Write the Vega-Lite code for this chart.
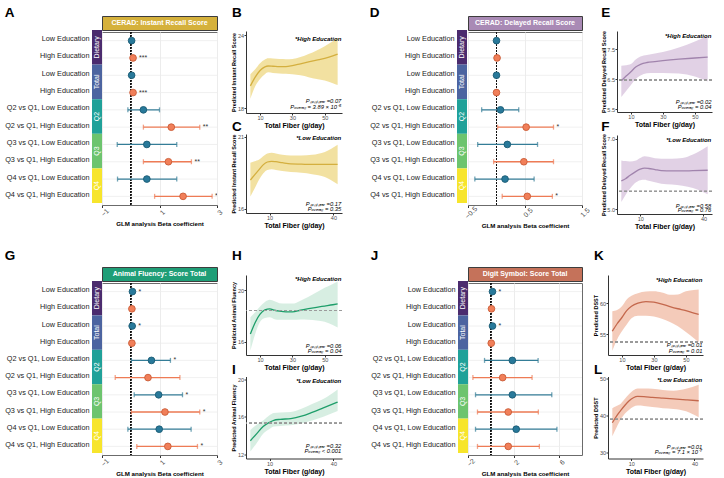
{
"$schema": "https://vega.github.io/schema/vega-lite/v6.json",
"padding": {"left": 4, "top": 5, "right": 0, "bottom": 0},
"background": "white",
"config": {
  "font": "Liberation Sans",
  "view": {"stroke": null},
  "title": {"fontSize": 13.5, "fontWeight": "bold", "anchor": "start", "font": "Liberation Sans", "color": "#000"},
  "axis": {"labelFontSize": 5.5, "labelColor": "#4d4d4d", "tickColor": "#333", "domainColor": "#333", "tickSize": 2, "titleFontWeight": "bold", "titleColor": "#000", "labelPadding": 0.5, "titlePadding": 0.5, "grid": false, "labelOverlap": false, "labelFlush": false},
  "axisX": {"titleFontSize": 7, "labelOverlap": false},
  "axisY": {"titleFontSize": 5.5, "labelOverlap": false}
},
"datasets": {
  "groups": [{"grp": "Dietary"}, {"grp": "Total"}, {"grp": "Q2"}, {"grp": "Q3"}, {"grp": "Q4"}],
  "recall": [
    {"key": "Dietary|Low Education", "edu": "Low", "est": 0.03, "sig": ""},
    {"key": "Dietary|High Education", "edu": "High", "est": 0.08, "sig": "***"},
    {"key": "Total|Low Education", "edu": "Low", "est": 0.03, "sig": ""},
    {"key": "Total|High Education", "edu": "High", "est": 0.08, "sig": "***"},
    {"key": "Q2|Q2 vs Q1, Low Education", "edu": "Low", "est": 0.44, "lo": -0.1, "hi": 1.0, "sig": ""},
    {"key": "Q2|Q2 vs Q1, High Education", "edu": "High", "est": 1.41, "lo": 0.44, "hi": 2.4, "sig": "**"},
    {"key": "Q3|Q3 vs Q1, Low Education", "edu": "Low", "est": 0.56, "lo": -0.47, "hi": 1.6, "sig": ""},
    {"key": "Q3|Q3 vs Q1, High Education", "edu": "High", "est": 1.31, "lo": 0.44, "hi": 2.11, "sig": "**"},
    {"key": "Q4|Q4 vs Q1, Low Education", "edu": "Low", "est": 0.56, "lo": -0.46, "hi": 1.6, "sig": ""},
    {"key": "Q4|Q4 vs Q1, High Education", "edu": "High", "est": 1.82, "lo": 0.83, "hi": 2.83, "sig": "**"}
  ],
  "delayed": [
    {"key": "Dietary|Low Education", "edu": "Low", "est": 0.0, "sig": ""},
    {"key": "Dietary|High Education", "edu": "High", "est": 0.01, "sig": ""},
    {"key": "Total|Low Education", "edu": "Low", "est": 0.0, "sig": ""},
    {"key": "Total|High Education", "edu": "High", "est": 0.0, "sig": ""},
    {"key": "Q2|Q2 vs Q1, Low Education", "edu": "Low", "est": 0.07, "lo": -0.26, "hi": 0.39, "sig": ""},
    {"key": "Q2|Q2 vs Q1, High Education", "edu": "High", "est": 0.52, "lo": 0.02, "hi": 1.0, "sig": "*"},
    {"key": "Q3|Q3 vs Q1, Low Education", "edu": "Low", "est": 0.19, "lo": -0.33, "hi": 0.72, "sig": ""},
    {"key": "Q3|Q3 vs Q1, High Education", "edu": "High", "est": 0.48, "lo": -0.05, "hi": 1.0, "sig": ""},
    {"key": "Q4|Q4 vs Q1, Low Education", "edu": "Low", "est": 0.15, "lo": -0.38, "hi": 0.66, "sig": ""},
    {"key": "Q4|Q4 vs Q1, High Education", "edu": "High", "est": 0.54, "lo": 0.1, "hi": 0.98, "sig": "*"}
  ],
  "animal": [
    {"key": "Dietary|Low Education", "edu": "Low", "est": 0.06, "sig": "*"},
    {"key": "Dietary|High Education", "edu": "High", "est": 0.04, "sig": ""},
    {"key": "Total|Low Education", "edu": "Low", "est": 0.05, "sig": "*"},
    {"key": "Total|High Education", "edu": "High", "est": 0.04, "sig": ""},
    {"key": "Q2|Q2 vs Q1, Low Education", "edu": "Low", "est": 0.72, "lo": 0.02, "hi": 1.38, "sig": "*"},
    {"key": "Q2|Q2 vs Q1, High Education", "edu": "High", "est": 0.6, "lo": -0.54, "hi": 1.71, "sig": ""},
    {"key": "Q3|Q3 vs Q1, Low Education", "edu": "Low", "est": 0.97, "lo": 0.12, "hi": 1.8, "sig": "*"},
    {"key": "Q3|Q3 vs Q1, High Education", "edu": "High", "est": 1.19, "lo": 0.02, "hi": 2.4, "sig": "*"},
    {"key": "Q4|Q4 vs Q1, Low Education", "edu": "Low", "est": 0.99, "lo": -0.1, "hi": 2.1, "sig": ""},
    {"key": "Q4|Q4 vs Q1, High Education", "edu": "High", "est": 1.29, "lo": 0.21, "hi": 2.32, "sig": "*"}
  ],
  "digit": [
    {"key": "Dietary|Low Education", "edu": "Low", "est": 0.15, "sig": "*"},
    {"key": "Dietary|High Education", "edu": "High", "est": 0.06, "sig": ""},
    {"key": "Total|Low Education", "edu": "Low", "est": 0.15, "sig": "*"},
    {"key": "Total|High Education", "edu": "High", "est": 0.04, "sig": ""},
    {"key": "Q2|Q2 vs Q1, Low Education", "edu": "Low", "est": 1.89, "lo": -0.55, "hi": 4.15, "sig": ""},
    {"key": "Q2|Q2 vs Q1, High Education", "edu": "High", "est": 1.04, "lo": -1.57, "hi": 3.62, "sig": ""},
    {"key": "Q3|Q3 vs Q1, Low Education", "edu": "Low", "est": 1.89, "lo": -1.34, "hi": 5.35, "sig": ""},
    {"key": "Q3|Q3 vs Q1, High Education", "edu": "High", "est": 1.53, "lo": -1.17, "hi": 4.17, "sig": ""},
    {"key": "Q4|Q4 vs Q1, Low Education", "edu": "Low", "est": 2.23, "lo": -1.34, "hi": 5.8, "sig": ""},
    {"key": "Q4|Q4 vs Q1, High Education", "edu": "High", "est": 1.53, "lo": -1.17, "hi": 4.26, "sig": ""}
  ],
  "B": [
    {"x": 4, "fit": 19.83, "hi": 20.8, "lo": 18.77}, {"x": 7, "fit": 20.55, "hi": 21.2, "lo": 19.8},
    {"x": 10, "fit": 21.1, "hi": 21.7, "lo": 20.4}, {"x": 13, "fit": 21.4, "hi": 22.0, "lo": 20.8},
    {"x": 15, "fit": 21.47, "hi": 22.1, "lo": 20.95}, {"x": 18, "fit": 21.45, "hi": 22.08, "lo": 20.9},
    {"x": 22, "fit": 21.42, "hi": 22.04, "lo": 20.85}, {"x": 26, "fit": 21.42, "hi": 22.03, "lo": 20.83},
    {"x": 30, "fit": 21.5, "hi": 22.05, "lo": 20.8}, {"x": 35, "fit": 21.65, "hi": 22.2, "lo": 20.7},
    {"x": 40, "fit": 21.8, "hi": 22.45, "lo": 20.55}, {"x": 45, "fit": 21.95, "hi": 22.75, "lo": 20.4},
    {"x": 50, "fit": 22.1, "hi": 23.1, "lo": 20.27}, {"x": 55, "fit": 22.3, "hi": 23.5, "lo": 20.05},
    {"x": 58, "fit": 22.45, "hi": 23.8, "lo": 19.9}
  ],
  "C": [
    {"x": 1, "fit": 18.0, "hi": 19.2, "lo": 16.85}, {"x": 3, "fit": 18.35, "hi": 19.3, "lo": 17.4},
    {"x": 5, "fit": 18.7, "hi": 19.4, "lo": 18.0}, {"x": 7, "fit": 19.05, "hi": 19.65, "lo": 18.45},
    {"x": 9, "fit": 19.25, "hi": 19.85, "lo": 18.7}, {"x": 11, "fit": 19.3, "hi": 19.9, "lo": 18.75},
    {"x": 13, "fit": 19.27, "hi": 19.85, "lo": 18.7}, {"x": 16, "fit": 19.2, "hi": 19.75, "lo": 18.62},
    {"x": 20, "fit": 19.12, "hi": 19.7, "lo": 18.55}, {"x": 25, "fit": 19.1, "hi": 19.7, "lo": 18.5},
    {"x": 30, "fit": 19.08, "hi": 19.75, "lo": 18.4}, {"x": 36, "fit": 19.08, "hi": 19.95, "lo": 18.2},
    {"x": 42, "fit": 19.08, "hi": 20.45, "lo": 17.7}
  ],
  "E": [
    {"x": 4, "fit": 6.44, "hi": 6.94, "lo": 5.9}, {"x": 7, "fit": 6.6, "hi": 6.96, "lo": 6.1},
    {"x": 10, "fit": 6.74, "hi": 7.0, "lo": 6.3}, {"x": 13, "fit": 6.9, "hi": 7.15, "lo": 6.5},
    {"x": 16, "fit": 6.99, "hi": 7.25, "lo": 6.62}, {"x": 20, "fit": 7.05, "hi": 7.3, "lo": 6.69},
    {"x": 25, "fit": 7.08, "hi": 7.35, "lo": 6.7}, {"x": 30, "fit": 7.11, "hi": 7.4, "lo": 6.7},
    {"x": 40, "fit": 7.16, "hi": 7.55, "lo": 6.68}, {"x": 50, "fit": 7.2, "hi": 7.75, "lo": 6.58},
    {"x": 58, "fit": 7.23, "hi": 7.93, "lo": 6.42}
  ],
  "F": [
    {"x": 1, "fit": 5.8, "hi": 6.38, "lo": 5.2}, {"x": 3, "fit": 5.86, "hi": 6.36, "lo": 5.4},
    {"x": 5, "fit": 5.95, "hi": 6.35, "lo": 5.57}, {"x": 8, "fit": 6.07, "hi": 6.38, "lo": 5.76},
    {"x": 10, "fit": 6.13, "hi": 6.45, "lo": 5.82}, {"x": 12, "fit": 6.16, "hi": 6.5, "lo": 5.83},
    {"x": 14, "fit": 6.15, "hi": 6.48, "lo": 5.8}, {"x": 17, "fit": 6.12, "hi": 6.44, "lo": 5.76},
    {"x": 20, "fit": 6.09, "hi": 6.43, "lo": 5.72}, {"x": 25, "fit": 6.08, "hi": 6.43, "lo": 5.7},
    {"x": 30, "fit": 6.08, "hi": 6.45, "lo": 5.66}, {"x": 35, "fit": 6.09, "hi": 6.55, "lo": 5.6},
    {"x": 42, "fit": 6.1, "hi": 6.78, "lo": 5.42}
  ],
  "H": [
    {"x": 4, "fit": 16.6, "hi": 17.9, "lo": 15.3}, {"x": 7, "fit": 17.5, "hi": 18.3, "lo": 16.6},
    {"x": 10, "fit": 18.15, "hi": 18.75, "lo": 17.55}, {"x": 13, "fit": 18.48, "hi": 19.1, "lo": 17.85},
    {"x": 16, "fit": 18.56, "hi": 19.27, "lo": 17.9}, {"x": 19, "fit": 18.45, "hi": 19.15, "lo": 17.75},
    {"x": 22, "fit": 18.38, "hi": 19.0, "lo": 17.7}, {"x": 26, "fit": 18.33, "hi": 18.97, "lo": 17.7},
    {"x": 30, "fit": 18.33, "hi": 18.97, "lo": 17.7}, {"x": 35, "fit": 18.45, "hi": 19.2, "lo": 17.72},
    {"x": 40, "fit": 18.57, "hi": 19.5, "lo": 17.7}, {"x": 45, "fit": 18.68, "hi": 19.85, "lo": 17.65},
    {"x": 50, "fit": 18.78, "hi": 20.2, "lo": 17.55}, {"x": 55, "fit": 18.88, "hi": 20.5, "lo": 17.3},
    {"x": 58, "fit": 18.95, "hi": 20.7, "lo": 17.1}
  ],
  "I": [
    {"x": 1, "fit": 13.45, "hi": 14.6, "lo": 12.3}, {"x": 4, "fit": 14.2, "hi": 15.15, "lo": 13.2},
    {"x": 7, "fit": 14.95, "hi": 15.6, "lo": 14.2}, {"x": 10, "fit": 15.4, "hi": 16.15, "lo": 14.7},
    {"x": 12, "fit": 15.62, "hi": 16.4, "lo": 14.95}, {"x": 15, "fit": 15.72, "hi": 16.45, "lo": 15.02},
    {"x": 20, "fit": 15.8, "hi": 16.5, "lo": 15.08}, {"x": 25, "fit": 16.05, "hi": 16.85, "lo": 15.28},
    {"x": 30, "fit": 16.45, "hi": 17.35, "lo": 15.6}, {"x": 35, "fit": 16.9, "hi": 17.85, "lo": 15.97},
    {"x": 42, "fit": 17.55, "hi": 18.9, "lo": 16.6}
  ],
  "K": [
    {"x": 4, "fit": 55.5, "hi": 58.7, "lo": 52.4}, {"x": 7, "fit": 56.7, "hi": 58.9, "lo": 54.2},
    {"x": 10, "fit": 57.7, "hi": 59.5, "lo": 55.5}, {"x": 13, "fit": 58.8, "hi": 60.6, "lo": 56.6},
    {"x": 16, "fit": 59.5, "hi": 61.2, "lo": 57.6}, {"x": 20, "fit": 60.0, "hi": 61.6, "lo": 58.0},
    {"x": 25, "fit": 60.25, "hi": 61.85, "lo": 58.0}, {"x": 30, "fit": 60.15, "hi": 61.9, "lo": 57.85},
    {"x": 35, "fit": 59.85, "hi": 61.7, "lo": 57.5}, {"x": 40, "fit": 59.45, "hi": 61.35, "lo": 57.0},
    {"x": 45, "fit": 59.1, "hi": 61.4, "lo": 56.3}, {"x": 50, "fit": 58.8, "hi": 61.9, "lo": 55.4},
    {"x": 55, "fit": 58.4, "hi": 62.1, "lo": 54.4}, {"x": 58, "fit": 58.2, "hi": 62.2, "lo": 53.8}
  ],
  "L": [
    {"x": 1, "fit": 38.1, "hi": 42.0, "lo": 34.5}, {"x": 3, "fit": 39.9, "hi": 42.6, "lo": 36.8},
    {"x": 5, "fit": 41.4, "hi": 43.2, "lo": 39.0}, {"x": 7, "fit": 42.8, "hi": 44.5, "lo": 40.6},
    {"x": 9, "fit": 44.0, "hi": 45.8, "lo": 41.6}, {"x": 11, "fit": 44.8, "hi": 46.8, "lo": 42.4},
    {"x": 13, "fit": 45.15, "hi": 47.3, "lo": 42.7}, {"x": 16, "fit": 45.1, "hi": 47.3, "lo": 42.6},
    {"x": 20, "fit": 44.9, "hi": 47.2, "lo": 42.3}, {"x": 25, "fit": 44.7, "hi": 46.9, "lo": 42.0},
    {"x": 30, "fit": 44.5, "hi": 46.7, "lo": 41.8}, {"x": 36, "fit": 44.25, "hi": 47.2, "lo": 41.2},
    {"x": 42, "fit": 44.0, "hi": 48.3, "lo": 39.6}
  ]
},
"spacing": 18,
"vconcat": [
 {"spacing": 27, "hconcat": [
  {"spacing": 7, "hconcat": [
   {"title": {"text": "A", "offset": -3.5}, "spacing": -5, "hconcat": [
    {"spacing": 0, "vconcat": [
     {"width": 10, "height": 14, "data": {"values": [{"a": 1}]}, "mark": {"type": "point", "opacity": 0}, "encoding": {}},
     {"width": 10, "height": 173, "resolve": {"scale": {"y": "independent"}}, "layer": [
      {"data": {"name": "recall"}, "mark": {"type": "point", "opacity": 0}, "encoding": {"y": {"field": "key", "type": "nominal", "sort": null, "scale": {"type": "point", "padding": 0.5, "domain": ["Dietary|Low Education", "Dietary|High Education", "Total|Low Education", "Total|High Education", "Q2|Q2 vs Q1, Low Education", "Q2|Q2 vs Q1, High Education", "Q3|Q3 vs Q1, Low Education", "Q3|Q3 vs Q1, High Education", "Q4|Q4 vs Q1, Low Education", "Q4|Q4 vs Q1, High Education"]}, "axis": {"title": null, "ticks": false, "domain": false, "labelFontSize": 7.3, "labelColor": "#222", "labelPadding": 3, "labelLimit": 200, "labelExpr": "split(datum.value, '|')[1]"}}}},
      {"data": {"name": "groups"}, "mark": {"type": "rect"}, "encoding": {"y": {"field": "grp", "type": "nominal", "sort": null, "scale": {"paddingInner": 0, "paddingOuter": 0}, "axis": null}, "color": {"field": "grp", "type": "nominal", "scale": {"domain": ["Dietary", "Total", "Q2", "Q3", "Q4", "Low", "High"], "range": ["#4B2B6E", "#4C64A0", "#20A199", "#6DC46E", "#F7E52C", "#347D97", "#EE7B55"]}, "legend": null}}},
      {"data": {"name": "groups"}, "mark": {"type": "text", "angle": -90, "color": "white", "fontSize": 7}, "encoding": {"y": {"field": "grp", "type": "nominal", "sort": null, "scale": {"paddingInner": 0, "paddingOuter": 0}, "axis": null}, "text": {"field": "grp"}}}
     ]}
    ]},
    {"spacing": 0, "vconcat": [
     {"width": 115, "height": 14, "view": {"fill": "#D5B13C", "stroke": "#3d3d3d", "strokeWidth": 1}, "data": {"values": [{"t": "CERAD: Instant Recall Score"}]}, "mark": {"type": "text", "color": "white", "fontSize": 7, "fontWeight": "bold", "baseline": "middle"}, "encoding": {"text": {"field": "t"}}},
     {"width": 115, "height": 173, "view": {"stroke": "#6b6b6b", "strokeWidth": 1}, "data": {"name": "recall"}, "layer": [
      {"mark": {"type": "rule", "color": "#ececec", "strokeWidth": 0.8}, "encoding": {"y": {"field": "key", "type": "nominal", "sort": null, "scale": {"type": "point", "padding": 0.5, "domain": ["Dietary|Low Education", "Dietary|High Education", "Total|Low Education", "Total|High Education", "Q2|Q2 vs Q1, Low Education", "Q2|Q2 vs Q1, High Education", "Q3|Q3 vs Q1, Low Education", "Q3|Q3 vs Q1, High Education", "Q4|Q4 vs Q1, Low Education", "Q4|Q4 vs Q1, High Education"]}, "axis": null}}},
      {"mark": {"type": "rule", "strokeDash": [1.5, 1.5], "color": "#111", "strokeWidth": 0.9}, "encoding": {"x": {"datum": 0, "type": "quantitative", "scale": {"domain": [-1, 3], "nice": false}, "axis": {"values": [-1, 0, 1, 2, 3], "labelOverlap": false, "title": "GLM analysis Beta coefficient", "titleFontSize": 6.2, "labelAngle": -45, "labelAlign": "center", "labelBaseline": "top", "labelFontSize": 7, "grid": true, "gridColor": "#ececec", "domain": false, "tickSize": 2.5, "labelPadding": 2, "titlePadding": 3}}}},
      {"mark": {"type": "rule", "strokeWidth": 1.3}, "encoding": {"x": {"field": "lo", "type": "quantitative"}, "x2": {"field": "hi"}, "y": {"field": "key", "type": "nominal", "sort": null}, "color": {"field": "edu", "type": "nominal", "legend": null}}},
      {"mark": {"type": "tick", "thickness": 1.3, "size": 5, "orient": "vertical"}, "encoding": {"x": {"field": "lo", "type": "quantitative"}, "y": {"field": "key", "type": "nominal", "sort": null}, "color": {"field": "edu", "type": "nominal", "legend": null}}},
      {"mark": {"type": "tick", "thickness": 1.3, "size": 5, "orient": "vertical"}, "encoding": {"x": {"field": "hi", "type": "quantitative"}, "y": {"field": "key", "type": "nominal", "sort": null}, "color": {"field": "edu", "type": "nominal", "legend": null}}},
      {"mark": {"type": "point", "filled": true, "shape": "circle", "size": 45, "opacity": 1, "strokeWidth": 0.9}, "encoding": {"x": {"field": "est", "type": "quantitative"}, "y": {"field": "key", "type": "nominal", "sort": null}, "fill": {"field": "edu", "type": "nominal", "scale": {"domain": ["Low", "High"], "range": ["#28799A", "#F17F59"]}, "legend": null}, "stroke": {"field": "edu", "type": "nominal", "scale": {"domain": ["Low", "High"], "range": ["#1B5B74", "#C95C38"]}, "legend": null}}},
      {"mark": {"type": "text", "align": "left", "baseline": "middle", "dx": 3, "fontSize": 7, "color": "#333", "clip": true}, "encoding": {"x": {"field": "hi", "type": "quantitative"}, "y": {"field": "key", "type": "nominal", "sort": null}, "text": {"field": "sig"}}},
      {"transform": [{"filter": "!isValid(datum.hi)"}], "mark": {"type": "text", "align": "left", "baseline": "middle", "dx": 6, "fontSize": 7, "color": "#333"}, "encoding": {"x": {"field": "est", "type": "quantitative"}, "y": {"field": "key", "type": "nominal", "sort": null}, "text": {"field": "sig"}}}
     ]}
    ]}
   ]},
   {"title": {"text": "B", "offset": -3.5}, "spacing": -9, "vconcat": [
    {"width": 96, "height": 15, "data": {"values": [{"a": 1}]}, "mark": {"type": "point", "opacity": 0}, "encoding": {}},
    {"width": 96, "height": 82, "data": {"name": "B"}, "layer": [
     {"mark": {"type": "area", "color": "#EFD98A", "opacity": 0.8, "interpolate": "monotone"}, "encoding": {"x": {"field": "x", "type": "quantitative", "scale": {"domain": [1.3, 60.7], "nice": false, "zero": false}, "axis": {"values": [10, 20, 30, 40, 50, 60], "labelOverlap": false, "title": "Total Fiber (g/day)"}}, "y": {"field": "lo", "type": "quantitative", "scale": {"domain": [17.6, 24.35], "nice": false, "zero": false}, "axis": {"values": [18, 20, 22, 24], "labelOverlap": false, "title": "Predicted Instant Recall Score"}}, "y2": {"field": "hi"}}},
     {"mark": {"type": "line", "color": "#D4AF3F", "strokeWidth": 1.3, "interpolate": "monotone"}, "encoding": {"x": {"field": "x", "type": "quantitative"}, "y": {"field": "fit", "type": "quantitative"}}},
     {"data": {"values": [{"t": "*High Education"}]}, "mark": {"type": "text", "align": "right", "baseline": "middle", "fontSize": 6, "fontStyle": "italic", "fontWeight": "bold"}, "encoding": {"x": {"datum": 60.3}, "y": {"datum": 23.7}, "text": {"field": "t"}}},
     {"data": {"values": [{"t": "Pₙₒₙₗᵢₙₑₐᵣ =0.07"}]}, "mark": {"type": "text", "align": "right", "baseline": "middle", "fontSize": 5.8, "fontStyle": "italic"}, "encoding": {"x": {"datum": 60.3}, "y": {"datum": 18.55}, "text": {"field": "t"}}},
     {"data": {"values": [{"t": "Pₒᵥₑᵣₐₗₗ = 3.89 × 10⁻⁵"}]}, "mark": {"type": "text", "align": "right", "baseline": "middle", "fontSize": 5.8, "fontStyle": "italic"}, "encoding": {"x": {"datum": 60.3}, "y": {"datum": 18.07}, "text": {"field": "t"}}}
    ]},
    {"title": {"text": "C", "offset": 0}, "width": 96, "height": 79, "data": {"name": "C"}, "layer": [
     {"mark": {"type": "area", "color": "#EFD98A", "opacity": 0.8, "interpolate": "monotone"}, "encoding": {"x": {"field": "x", "type": "quantitative", "scale": {"domain": [-1.05, 44.05], "nice": false, "zero": false}, "axis": {"values": [10, 20, 30, 40], "labelOverlap": false, "title": "Total Fiber (g/day)"}}, "y": {"field": "lo", "type": "quantitative", "scale": {"domain": [15.7, 21.2], "nice": false, "zero": false}, "axis": {"values": [16, 17, 18, 19, 20, 21], "labelOverlap": false, "title": "Predicted Instant Recall Score"}}, "y2": {"field": "hi"}}},
     {"mark": {"type": "line", "color": "#D4AF3F", "strokeWidth": 1.3, "interpolate": "monotone"}, "encoding": {"x": {"field": "x", "type": "quantitative"}, "y": {"field": "fit", "type": "quantitative"}}},
     {"data": {"values": [{"t": "*Low Education"}]}, "mark": {"type": "text", "align": "right", "baseline": "middle", "fontSize": 6, "fontStyle": "italic", "fontWeight": "bold"}, "encoding": {"x": {"datum": 43.7}, "y": {"datum": 20.93}, "text": {"field": "t"}}},
     {"data": {"values": [{"t": "Pₙₒₙₗᵢₙₑₐᵣ =0.17"}]}, "mark": {"type": "text", "align": "right", "baseline": "middle", "fontSize": 5.8, "fontStyle": "italic"}, "encoding": {"x": {"datum": 43.7}, "y": {"datum": 16.3}, "text": {"field": "t"}}},
     {"data": {"values": [{"t": "Pₒᵥₑᵣₐₗₗ = 0.35"}]}, "mark": {"type": "text", "align": "right", "baseline": "middle", "fontSize": 5.8, "fontStyle": "italic"}, "encoding": {"x": {"datum": 43.7}, "y": {"datum": 15.97}, "text": {"field": "t"}}}
    ]}
   ]}
  ]},
  {"spacing": 10, "hconcat": [
   {"title": {"text": "D", "offset": -3.5}, "spacing": -5, "hconcat": [
    {"spacing": 0, "vconcat": [
     {"width": 10, "height": 14, "data": {"values": [{"a": 1}]}, "mark": {"type": "point", "opacity": 0}, "encoding": {}},
     {"width": 10, "height": 173, "resolve": {"scale": {"y": "independent"}}, "layer": [
      {"data": {"name": "delayed"}, "mark": {"type": "point", "opacity": 0}, "encoding": {"y": {"field": "key", "type": "nominal", "sort": null, "scale": {"type": "point", "padding": 0.5, "domain": ["Dietary|Low Education", "Dietary|High Education", "Total|Low Education", "Total|High Education", "Q2|Q2 vs Q1, Low Education", "Q2|Q2 vs Q1, High Education", "Q3|Q3 vs Q1, Low Education", "Q3|Q3 vs Q1, High Education", "Q4|Q4 vs Q1, Low Education", "Q4|Q4 vs Q1, High Education"]}, "axis": {"title": null, "ticks": false, "domain": false, "labelFontSize": 7.3, "labelColor": "#222", "labelPadding": 3, "labelLimit": 200, "labelExpr": "split(datum.value, '|')[1]"}}}},
      {"data": {"name": "groups"}, "mark": {"type": "rect"}, "encoding": {"y": {"field": "grp", "type": "nominal", "sort": null, "scale": {"paddingInner": 0, "paddingOuter": 0}, "axis": null}, "color": {"field": "grp", "type": "nominal", "scale": {"domain": ["Dietary", "Total", "Q2", "Q3", "Q4", "Low", "High"], "range": ["#4B2B6E", "#4C64A0", "#20A199", "#6DC46E", "#F7E52C", "#347D97", "#EE7B55"]}, "legend": null}}},
      {"data": {"name": "groups"}, "mark": {"type": "text", "angle": -90, "color": "white", "fontSize": 7}, "encoding": {"y": {"field": "grp", "type": "nominal", "sort": null, "scale": {"paddingInner": 0, "paddingOuter": 0}, "axis": null}, "text": {"field": "grp"}}}
     ]}
    ]},
    {"spacing": 0, "vconcat": [
     {"width": 114, "height": 14, "view": {"fill": "#A98AB5", "stroke": "#3d3d3d", "strokeWidth": 1}, "data": {"values": [{"t": "CERAD: Delayed Recall Score"}]}, "mark": {"type": "text", "color": "white", "fontSize": 7, "fontWeight": "bold", "baseline": "middle"}, "encoding": {"text": {"field": "t"}}},
     {"width": 114, "height": 173, "view": {"stroke": "#6b6b6b", "strokeWidth": 1}, "data": {"name": "delayed"}, "layer": [
      {"mark": {"type": "rule", "color": "#ececec", "strokeWidth": 0.8}, "encoding": {"y": {"field": "key", "type": "nominal", "sort": null, "scale": {"type": "point", "padding": 0.5, "domain": ["Dietary|Low Education", "Dietary|High Education", "Total|Low Education", "Total|High Education", "Q2|Q2 vs Q1, Low Education", "Q2|Q2 vs Q1, High Education", "Q3|Q3 vs Q1, Low Education", "Q3|Q3 vs Q1, High Education", "Q4|Q4 vs Q1, Low Education", "Q4|Q4 vs Q1, High Education"]}, "axis": null}}},
      {"mark": {"type": "rule", "strokeDash": [1.5, 1.5], "color": "#111", "strokeWidth": 0.9}, "encoding": {"x": {"datum": 0, "type": "quantitative", "scale": {"domain": [-0.5, 1.5], "nice": false}, "axis": {"values": [-0.5, 0, 0.5, 1, 1.5], "labelOverlap": false, "format": ".1f", "title": "GLM analysis Beta coefficient", "titleFontSize": 6.2, "labelAngle": -45, "labelAlign": "center", "labelBaseline": "top", "labelFontSize": 7, "grid": true, "gridColor": "#ececec", "domain": false, "tickSize": 2.5, "labelPadding": 2, "titlePadding": 3}}}},
      {"mark": {"type": "rule", "strokeWidth": 1.3}, "encoding": {"x": {"field": "lo", "type": "quantitative"}, "x2": {"field": "hi"}, "y": {"field": "key", "type": "nominal", "sort": null}, "color": {"field": "edu", "type": "nominal", "legend": null}}},
      {"mark": {"type": "tick", "thickness": 1.3, "size": 5, "orient": "vertical"}, "encoding": {"x": {"field": "lo", "type": "quantitative"}, "y": {"field": "key", "type": "nominal", "sort": null}, "color": {"field": "edu", "type": "nominal", "legend": null}}},
      {"mark": {"type": "tick", "thickness": 1.3, "size": 5, "orient": "vertical"}, "encoding": {"x": {"field": "hi", "type": "quantitative"}, "y": {"field": "key", "type": "nominal", "sort": null}, "color": {"field": "edu", "type": "nominal", "legend": null}}},
      {"mark": {"type": "point", "filled": true, "shape": "circle", "size": 45, "opacity": 1, "strokeWidth": 0.9}, "encoding": {"x": {"field": "est", "type": "quantitative"}, "y": {"field": "key", "type": "nominal", "sort": null}, "fill": {"field": "edu", "type": "nominal", "scale": {"domain": ["Low", "High"], "range": ["#28799A", "#F17F59"]}, "legend": null}, "stroke": {"field": "edu", "type": "nominal", "scale": {"domain": ["Low", "High"], "range": ["#1B5B74", "#C95C38"]}, "legend": null}}},
      {"mark": {"type": "text", "align": "left", "baseline": "middle", "dx": 3, "fontSize": 7, "color": "#333", "clip": true}, "encoding": {"x": {"field": "hi", "type": "quantitative"}, "y": {"field": "key", "type": "nominal", "sort": null}, "text": {"field": "sig"}}},
      {"transform": [{"filter": "!isValid(datum.hi)"}], "mark": {"type": "text", "align": "left", "baseline": "middle", "dx": 6, "fontSize": 7, "color": "#333"}, "encoding": {"x": {"field": "est", "type": "quantitative"}, "y": {"field": "key", "type": "nominal", "sort": null}, "text": {"field": "sig"}}}
     ]}
    ]}
   ]},
   {"title": {"text": "E", "offset": -3.5}, "spacing": -9, "vconcat": [
    {"width": 95, "height": 15, "data": {"values": [{"a": 1}]}, "mark": {"type": "point", "opacity": 0}, "encoding": {}},
    {"width": 95, "height": 81, "data": {"name": "E"}, "layer": [
     {"mark": {"type": "area", "color": "#DCC9E0", "opacity": 0.85, "interpolate": "monotone"}, "encoding": {"x": {"field": "x", "type": "quantitative", "scale": {"domain": [1.3, 60.7], "nice": false, "zero": false}, "axis": {"values": [10, 20, 30, 40, 50, 60], "labelOverlap": false, "title": "Total Fiber (g/day)"}}, "y": {"field": "lo", "type": "quantitative", "scale": {"domain": [5.4, 8.1], "nice": false, "zero": false}, "axis": {"values": [5.5, 6, 6.5, 7, 7.5, 8], "labelOverlap": false, "format": ".1f", "title": "Predicted Delayed Recall Score"}}, "y2": {"field": "hi"}}},
     {"mark": {"type": "line", "color": "#A184AD", "strokeWidth": 1.3, "interpolate": "monotone"}, "encoding": {"x": {"field": "x", "type": "quantitative"}, "y": {"field": "fit", "type": "quantitative"}}},
     {"mark": {"type": "rule", "color": "#9a9a9a", "strokeDash": [3, 2], "strokeWidth": 0.8}, "encoding": {"y": {"datum": 6.46}}},
     {"data": {"values": [{"t": "*High Education"}]}, "mark": {"type": "text", "align": "right", "baseline": "middle", "fontSize": 6, "fontStyle": "italic", "fontWeight": "bold"}, "encoding": {"x": {"datum": 60.3}, "y": {"datum": 7.92}, "text": {"field": "t"}}},
     {"data": {"values": [{"t": "Pₙₒₙₗᵢₙₑₐᵣ =0.02"}]}, "mark": {"type": "text", "align": "right", "baseline": "middle", "fontSize": 5.8, "fontStyle": "italic"}, "encoding": {"x": {"datum": 60.3}, "y": {"datum": 5.75}, "text": {"field": "t"}}},
     {"data": {"values": [{"t": "Pₒᵥₑᵣₐₗₗ = 0.04"}]}, "mark": {"type": "text", "align": "right", "baseline": "middle", "fontSize": 5.8, "fontStyle": "italic"}, "encoding": {"x": {"datum": 60.3}, "y": {"datum": 5.56}, "text": {"field": "t"}}}
    ]},
    {"title": {"text": "F", "offset": 0}, "width": 95, "height": 79, "data": {"name": "F"}, "layer": [
     {"mark": {"type": "area", "color": "#DCC9E0", "opacity": 0.85, "interpolate": "monotone"}, "encoding": {"x": {"field": "x", "type": "quantitative", "scale": {"domain": [-1.05, 44.05], "nice": false, "zero": false}, "axis": {"values": [10, 20, 30, 40], "labelOverlap": false, "title": "Total Fiber (g/day)"}}, "y": {"field": "lo", "type": "quantitative", "scale": {"domain": [4.86, 7.1], "nice": false, "zero": false}, "axis": {"values": [5, 5.5, 6, 6.5, 7], "labelOverlap": false, "format": ".1f", "title": "Predicted Delayed Recall Score"}}, "y2": {"field": "hi"}}},
     {"mark": {"type": "line", "color": "#A184AD", "strokeWidth": 1.3, "interpolate": "monotone"}, "encoding": {"x": {"field": "x", "type": "quantitative"}, "y": {"field": "fit", "type": "quantitative"}}},
     {"mark": {"type": "rule", "color": "#9a9a9a", "strokeDash": [3, 2], "strokeWidth": 0.8}, "encoding": {"y": {"datum": 5.5}}},
     {"data": {"values": [{"t": "*Low Education"}]}, "mark": {"type": "text", "align": "right", "baseline": "middle", "fontSize": 6, "fontStyle": "italic", "fontWeight": "bold"}, "encoding": {"x": {"datum": 43.7}, "y": {"datum": 6.97}, "text": {"field": "t"}}},
     {"data": {"values": [{"t": "Pₙₒₙₗᵢₙₑₐᵣ =0.58"}]}, "mark": {"type": "text", "align": "right", "baseline": "middle", "fontSize": 5.8, "fontStyle": "italic"}, "encoding": {"x": {"datum": 43.7}, "y": {"datum": 5.1}, "text": {"field": "t"}}},
     {"data": {"values": [{"t": "Pₒᵥₑᵣₐₗₗ = 0.76"}]}, "mark": {"type": "text", "align": "right", "baseline": "middle", "fontSize": 5.8, "fontStyle": "italic"}, "encoding": {"x": {"datum": 43.7}, "y": {"datum": 4.96}, "text": {"field": "t"}}}
    ]}
   ]}
  ]}
 ]},
 {"spacing": 27, "hconcat": [
  {"spacing": 7, "hconcat": [
   {"title": {"text": "G", "offset": 4.5}, "spacing": -5, "hconcat": [
    {"spacing": 0, "vconcat": [
     {"width": 10, "height": 14, "data": {"values": [{"a": 1}]}, "mark": {"type": "point", "opacity": 0}, "encoding": {}},
     {"width": 10, "height": 172, "resolve": {"scale": {"y": "independent"}}, "layer": [
      {"data": {"name": "animal"}, "mark": {"type": "point", "opacity": 0}, "encoding": {"y": {"field": "key", "type": "nominal", "sort": null, "scale": {"type": "point", "padding": 0.5, "domain": ["Dietary|Low Education", "Dietary|High Education", "Total|Low Education", "Total|High Education", "Q2|Q2 vs Q1, Low Education", "Q2|Q2 vs Q1, High Education", "Q3|Q3 vs Q1, Low Education", "Q3|Q3 vs Q1, High Education", "Q4|Q4 vs Q1, Low Education", "Q4|Q4 vs Q1, High Education"]}, "axis": {"title": null, "ticks": false, "domain": false, "labelFontSize": 7.3, "labelColor": "#222", "labelPadding": 3, "labelLimit": 200, "labelExpr": "split(datum.value, '|')[1]"}}}},
      {"data": {"name": "groups"}, "mark": {"type": "rect"}, "encoding": {"y": {"field": "grp", "type": "nominal", "sort": null, "scale": {"paddingInner": 0, "paddingOuter": 0}, "axis": null}, "color": {"field": "grp", "type": "nominal", "scale": {"domain": ["Dietary", "Total", "Q2", "Q3", "Q4", "Low", "High"], "range": ["#4B2B6E", "#4C64A0", "#20A199", "#6DC46E", "#F7E52C", "#347D97", "#EE7B55"]}, "legend": null}}},
      {"data": {"name": "groups"}, "mark": {"type": "text", "angle": -90, "color": "white", "fontSize": 7}, "encoding": {"y": {"field": "grp", "type": "nominal", "sort": null, "scale": {"paddingInner": 0, "paddingOuter": 0}, "axis": null}, "text": {"field": "grp"}}}
     ]}
    ]},
    {"spacing": 0, "vconcat": [
     {"width": 115, "height": 14, "view": {"fill": "#1F9E77", "stroke": "#3d3d3d", "strokeWidth": 1}, "data": {"values": [{"t": "Animal Fluency: Score Total"}]}, "mark": {"type": "text", "color": "white", "fontSize": 7, "fontWeight": "bold", "baseline": "middle"}, "encoding": {"text": {"field": "t"}}},
     {"width": 115, "height": 172, "view": {"stroke": "#6b6b6b", "strokeWidth": 1}, "data": {"name": "animal"}, "layer": [
      {"mark": {"type": "rule", "color": "#ececec", "strokeWidth": 0.8}, "encoding": {"y": {"field": "key", "type": "nominal", "sort": null, "scale": {"type": "point", "padding": 0.5, "domain": ["Dietary|Low Education", "Dietary|High Education", "Total|Low Education", "Total|High Education", "Q2|Q2 vs Q1, Low Education", "Q2|Q2 vs Q1, High Education", "Q3|Q3 vs Q1, Low Education", "Q3|Q3 vs Q1, High Education", "Q4|Q4 vs Q1, Low Education", "Q4|Q4 vs Q1, High Education"]}, "axis": null}}},
      {"mark": {"type": "rule", "strokeDash": [1.5, 1.5], "color": "#111", "strokeWidth": 0.9}, "encoding": {"x": {"datum": 0, "type": "quantitative", "scale": {"domain": [-1, 3], "nice": false}, "axis": {"values": [-1, 0, 1, 2, 3], "labelOverlap": false, "title": "GLM analysis Beta coefficient", "titleFontSize": 6.2, "labelAngle": -45, "labelAlign": "center", "labelBaseline": "top", "labelFontSize": 7, "grid": true, "gridColor": "#ececec", "domain": false, "tickSize": 2.5, "labelPadding": 2, "titlePadding": 3}}}},
      {"mark": {"type": "rule", "strokeWidth": 1.3}, "encoding": {"x": {"field": "lo", "type": "quantitative"}, "x2": {"field": "hi"}, "y": {"field": "key", "type": "nominal", "sort": null}, "color": {"field": "edu", "type": "nominal", "legend": null}}},
      {"mark": {"type": "tick", "thickness": 1.3, "size": 5, "orient": "vertical"}, "encoding": {"x": {"field": "lo", "type": "quantitative"}, "y": {"field": "key", "type": "nominal", "sort": null}, "color": {"field": "edu", "type": "nominal", "legend": null}}},
      {"mark": {"type": "tick", "thickness": 1.3, "size": 5, "orient": "vertical"}, "encoding": {"x": {"field": "hi", "type": "quantitative"}, "y": {"field": "key", "type": "nominal", "sort": null}, "color": {"field": "edu", "type": "nominal", "legend": null}}},
      {"mark": {"type": "point", "filled": true, "shape": "circle", "size": 45, "opacity": 1, "strokeWidth": 0.9}, "encoding": {"x": {"field": "est", "type": "quantitative"}, "y": {"field": "key", "type": "nominal", "sort": null}, "fill": {"field": "edu", "type": "nominal", "scale": {"domain": ["Low", "High"], "range": ["#28799A", "#F17F59"]}, "legend": null}, "stroke": {"field": "edu", "type": "nominal", "scale": {"domain": ["Low", "High"], "range": ["#1B5B74", "#C95C38"]}, "legend": null}}},
      {"mark": {"type": "text", "align": "left", "baseline": "middle", "dx": 3, "fontSize": 7, "color": "#333", "clip": true}, "encoding": {"x": {"field": "hi", "type": "quantitative"}, "y": {"field": "key", "type": "nominal", "sort": null}, "text": {"field": "sig"}}},
      {"transform": [{"filter": "!isValid(datum.hi)"}], "mark": {"type": "text", "align": "left", "baseline": "middle", "dx": 6, "fontSize": 7, "color": "#333"}, "encoding": {"x": {"field": "est", "type": "quantitative"}, "y": {"field": "key", "type": "nominal", "sort": null}, "text": {"field": "sig"}}}
     ]}
    ]}
   ]},
   {"title": {"text": "H", "offset": 4.5}, "spacing": -8.5, "vconcat": [
    {"width": 96, "height": 7.5, "data": {"values": [{"a": 1}]}, "mark": {"type": "point", "opacity": 0}, "encoding": {}},
    {"width": 96, "height": 80, "data": {"name": "H"}, "layer": [
     {"mark": {"type": "area", "color": "#D3ECDF", "opacity": 0.9, "interpolate": "monotone"}, "encoding": {"x": {"field": "x", "type": "quantitative", "scale": {"domain": [1.3, 60.7], "nice": false, "zero": false}, "axis": {"values": [10, 20, 30, 40, 50, 60], "labelOverlap": false, "title": "Total Fiber (g/day)"}}, "y": {"field": "lo", "type": "quantitative", "scale": {"domain": [14.96, 21.2], "nice": false, "zero": false}, "axis": {"values": [16, 18, 20], "labelOverlap": false, "title": "Predicted Animal Fluency"}}, "y2": {"field": "hi"}}},
     {"mark": {"type": "line", "color": "#1E9E6A", "strokeWidth": 1.3, "interpolate": "monotone"}, "encoding": {"x": {"field": "x", "type": "quantitative"}, "y": {"field": "fit", "type": "quantitative"}}},
     {"mark": {"type": "rule", "color": "#9a9a9a", "strokeDash": [3, 2], "strokeWidth": 0.8}, "encoding": {"y": {"datum": 18.43}}},
     {"data": {"values": [{"t": "*High Education"}]}, "mark": {"type": "text", "align": "right", "baseline": "middle", "fontSize": 6, "fontStyle": "italic", "fontWeight": "bold"}, "encoding": {"x": {"datum": 60.3}, "y": {"datum": 20.89}, "text": {"field": "t"}}},
     {"data": {"values": [{"t": "Pₙₒₙₗᵢₙₑₐᵣ =0.06"}]}, "mark": {"type": "text", "align": "right", "baseline": "middle", "fontSize": 5.8, "fontStyle": "italic"}, "encoding": {"x": {"datum": 60.3}, "y": {"datum": 15.67}, "text": {"field": "t"}}},
     {"data": {"values": [{"t": "Pₒᵥₑᵣₐₗₗ = 0.04"}]}, "mark": {"type": "text", "align": "right", "baseline": "middle", "fontSize": 5.8, "fontStyle": "italic"}, "encoding": {"x": {"datum": 60.3}, "y": {"datum": 15.3}, "text": {"field": "t"}}}
    ]},
    {"title": {"text": "I", "offset": 0}, "width": 96, "height": 82, "data": {"name": "I"}, "layer": [
     {"mark": {"type": "area", "color": "#D3ECDF", "opacity": 0.9, "interpolate": "monotone"}, "encoding": {"x": {"field": "x", "type": "quantitative", "scale": {"domain": [-1.05, 44.05], "nice": false, "zero": false}, "axis": {"values": [10, 20, 30, 40], "labelOverlap": false, "title": "Total Fiber (g/day)"}}, "y": {"field": "lo", "type": "quantitative", "scale": {"domain": [11.56, 20.27], "nice": false, "zero": false}, "axis": {"values": [12, 14, 16, 18, 20], "labelOverlap": false, "title": "Predicted Animal Fluency"}}, "y2": {"field": "hi"}}},
     {"mark": {"type": "line", "color": "#1E9E6A", "strokeWidth": 1.3, "interpolate": "monotone"}, "encoding": {"x": {"field": "x", "type": "quantitative"}, "y": {"field": "fit", "type": "quantitative"}}},
     {"mark": {"type": "rule", "color": "#9a9a9a", "strokeDash": [3, 2], "strokeWidth": 0.8}, "encoding": {"y": {"datum": 15.3}}},
     {"data": {"values": [{"t": "*Low Education"}]}, "mark": {"type": "text", "align": "right", "baseline": "middle", "fontSize": 6, "fontStyle": "italic", "fontWeight": "bold"}, "encoding": {"x": {"datum": 43.7}, "y": {"datum": 19.76}, "text": {"field": "t"}}},
     {"data": {"values": [{"t": "Pₙₒₙₗᵢₙₑₐᵣ =0.32"}]}, "mark": {"type": "text", "align": "right", "baseline": "middle", "fontSize": 5.8, "fontStyle": "italic"}, "encoding": {"x": {"datum": 43.7}, "y": {"datum": 12.92}, "text": {"field": "t"}}},
     {"data": {"values": [{"t": "Pₒᵥₑᵣₐₗₗ < 0.001"}]}, "mark": {"type": "text", "align": "right", "baseline": "middle", "fontSize": 5.8, "fontStyle": "italic"}, "encoding": {"x": {"datum": 43.7}, "y": {"datum": 12.4}, "text": {"field": "t"}}}
    ]}
   ]}
  ]},
  {"spacing": 10, "hconcat": [
   {"title": {"text": "J", "offset": 4.5}, "spacing": -5, "hconcat": [
    {"spacing": 0, "vconcat": [
     {"width": 10, "height": 14, "data": {"values": [{"a": 1}]}, "mark": {"type": "point", "opacity": 0}, "encoding": {}},
     {"width": 10, "height": 172, "resolve": {"scale": {"y": "independent"}}, "layer": [
      {"data": {"name": "digit"}, "mark": {"type": "point", "opacity": 0}, "encoding": {"y": {"field": "key", "type": "nominal", "sort": null, "scale": {"type": "point", "padding": 0.5, "domain": ["Dietary|Low Education", "Dietary|High Education", "Total|Low Education", "Total|High Education", "Q2|Q2 vs Q1, Low Education", "Q2|Q2 vs Q1, High Education", "Q3|Q3 vs Q1, Low Education", "Q3|Q3 vs Q1, High Education", "Q4|Q4 vs Q1, Low Education", "Q4|Q4 vs Q1, High Education"]}, "axis": {"title": null, "ticks": false, "domain": false, "labelFontSize": 7.3, "labelColor": "#222", "labelPadding": 3, "labelLimit": 200, "labelExpr": "split(datum.value, '|')[1]"}}}},
      {"data": {"name": "groups"}, "mark": {"type": "rect"}, "encoding": {"y": {"field": "grp", "type": "nominal", "sort": null, "scale": {"paddingInner": 0, "paddingOuter": 0}, "axis": null}, "color": {"field": "grp", "type": "nominal", "scale": {"domain": ["Dietary", "Total", "Q2", "Q3", "Q4", "Low", "High"], "range": ["#4B2B6E", "#4C64A0", "#20A199", "#6DC46E", "#F7E52C", "#347D97", "#EE7B55"]}, "legend": null}}},
      {"data": {"name": "groups"}, "mark": {"type": "text", "angle": -90, "color": "white", "fontSize": 7}, "encoding": {"y": {"field": "grp", "type": "nominal", "sort": null, "scale": {"paddingInner": 0, "paddingOuter": 0}, "axis": null}, "text": {"field": "grp"}}}
     ]}
    ]},
    {"spacing": 0, "vconcat": [
     {"width": 114, "height": 14, "view": {"fill": "#C5725A", "stroke": "#3d3d3d", "strokeWidth": 1}, "data": {"values": [{"t": "Digit Symbol: Score Total"}]}, "mark": {"type": "text", "color": "white", "fontSize": 7, "fontWeight": "bold", "baseline": "middle"}, "encoding": {"text": {"field": "t"}}},
     {"width": 114, "height": 172, "view": {"stroke": "#6b6b6b", "strokeWidth": 1}, "data": {"name": "digit"}, "layer": [
      {"mark": {"type": "rule", "color": "#ececec", "strokeWidth": 0.8}, "encoding": {"y": {"field": "key", "type": "nominal", "sort": null, "scale": {"type": "point", "padding": 0.5, "domain": ["Dietary|Low Education", "Dietary|High Education", "Total|Low Education", "Total|High Education", "Q2|Q2 vs Q1, Low Education", "Q2|Q2 vs Q1, High Education", "Q3|Q3 vs Q1, Low Education", "Q3|Q3 vs Q1, High Education", "Q4|Q4 vs Q1, Low Education", "Q4|Q4 vs Q1, High Education"]}, "axis": null}}},
      {"mark": {"type": "rule", "strokeDash": [1.5, 1.5], "color": "#111", "strokeWidth": 0.9}, "encoding": {"x": {"datum": 0, "type": "quantitative", "scale": {"domain": [-2, 8], "nice": false}, "axis": {"values": [-2, 0, 2, 4, 6, 8], "labelOverlap": false, "title": "GLM analysis Beta coefficient", "titleFontSize": 6.2, "labelAngle": -45, "labelAlign": "center", "labelBaseline": "top", "labelFontSize": 7, "grid": true, "gridColor": "#ececec", "domain": false, "tickSize": 2.5, "labelPadding": 2, "titlePadding": 3}}}},
      {"mark": {"type": "rule", "strokeWidth": 1.3}, "encoding": {"x": {"field": "lo", "type": "quantitative"}, "x2": {"field": "hi"}, "y": {"field": "key", "type": "nominal", "sort": null}, "color": {"field": "edu", "type": "nominal", "legend": null}}},
      {"mark": {"type": "tick", "thickness": 1.3, "size": 5, "orient": "vertical"}, "encoding": {"x": {"field": "lo", "type": "quantitative"}, "y": {"field": "key", "type": "nominal", "sort": null}, "color": {"field": "edu", "type": "nominal", "legend": null}}},
      {"mark": {"type": "tick", "thickness": 1.3, "size": 5, "orient": "vertical"}, "encoding": {"x": {"field": "hi", "type": "quantitative"}, "y": {"field": "key", "type": "nominal", "sort": null}, "color": {"field": "edu", "type": "nominal", "legend": null}}},
      {"mark": {"type": "point", "filled": true, "shape": "circle", "size": 45, "opacity": 1, "strokeWidth": 0.9}, "encoding": {"x": {"field": "est", "type": "quantitative"}, "y": {"field": "key", "type": "nominal", "sort": null}, "fill": {"field": "edu", "type": "nominal", "scale": {"domain": ["Low", "High"], "range": ["#28799A", "#F17F59"]}, "legend": null}, "stroke": {"field": "edu", "type": "nominal", "scale": {"domain": ["Low", "High"], "range": ["#1B5B74", "#C95C38"]}, "legend": null}}},
      {"mark": {"type": "text", "align": "left", "baseline": "middle", "dx": 3, "fontSize": 7, "color": "#333", "clip": true}, "encoding": {"x": {"field": "hi", "type": "quantitative"}, "y": {"field": "key", "type": "nominal", "sort": null}, "text": {"field": "sig"}}},
      {"transform": [{"filter": "!isValid(datum.hi)"}], "mark": {"type": "text", "align": "left", "baseline": "middle", "dx": 6, "fontSize": 7, "color": "#333"}, "encoding": {"x": {"field": "est", "type": "quantitative"}, "y": {"field": "key", "type": "nominal", "sort": null}, "text": {"field": "sig"}}}
     ]}
    ]}
   ]},
   {"title": {"text": "K", "offset": 4.5}, "spacing": -8.5, "vconcat": [
    {"width": 95, "height": 7.5, "data": {"values": [{"a": 1}]}, "mark": {"type": "point", "opacity": 0}, "encoding": {}},
    {"width": 95, "height": 80, "data": {"name": "K"}, "layer": [
     {"mark": {"type": "area", "color": "#F3C5B3", "opacity": 0.9, "interpolate": "monotone"}, "encoding": {"x": {"field": "x", "type": "quantitative", "scale": {"domain": [1.3, 60.7], "nice": false, "zero": false}, "axis": {"values": [10, 20, 30, 40, 50, 60], "labelOverlap": false, "title": "Total Fiber (g/day)"}}, "y": {"field": "lo", "type": "quantitative", "scale": {"domain": [51.7, 64.5], "nice": false, "zero": false}, "axis": {"values": [55, 60], "labelOverlap": false, "title": "Predicted DSST"}}, "y2": {"field": "hi"}}},
     {"mark": {"type": "line", "color": "#C4684D", "strokeWidth": 1.3, "interpolate": "monotone"}, "encoding": {"x": {"field": "x", "type": "quantitative"}, "y": {"field": "fit", "type": "quantitative"}}},
     {"mark": {"type": "rule", "color": "#9a9a9a", "strokeDash": [3, 2], "strokeWidth": 0.8}, "encoding": {"y": {"datum": 53.8}}},
     {"data": {"values": [{"t": "*High Education"}]}, "mark": {"type": "text", "align": "right", "baseline": "middle", "fontSize": 6, "fontStyle": "italic", "fontWeight": "bold"}, "encoding": {"x": {"datum": 60.3}, "y": {"datum": 63.7}, "text": {"field": "t"}}},
     {"data": {"values": [{"t": "Pₙₒₙₗᵢₙₑₐᵣ =0.01"}]}, "mark": {"type": "text", "align": "right", "baseline": "middle", "fontSize": 5.8, "fontStyle": "italic"}, "encoding": {"x": {"datum": 60.3}, "y": {"datum": 53.3}, "text": {"field": "t"}}},
     {"data": {"values": [{"t": "Pₒᵥₑᵣₐₗₗ = 0.01"}]}, "mark": {"type": "text", "align": "right", "baseline": "middle", "fontSize": 5.8, "fontStyle": "italic"}, "encoding": {"x": {"datum": 60.3}, "y": {"datum": 52.4}, "text": {"field": "t"}}}
    ]},
    {"title": {"text": "L", "offset": 0}, "width": 95, "height": 82, "data": {"name": "L"}, "layer": [
     {"mark": {"type": "area", "color": "#F3C5B3", "opacity": 0.9, "interpolate": "monotone"}, "encoding": {"x": {"field": "x", "type": "quantitative", "scale": {"domain": [-1.05, 44.05], "nice": false, "zero": false}, "axis": {"values": [10, 20, 30, 40], "labelOverlap": false, "title": "Total Fiber (g/day)"}}, "y": {"field": "lo", "type": "quantitative", "scale": {"domain": [28.5, 50.5], "nice": false, "zero": false}, "axis": {"values": [30, 35, 40, 45, 50], "labelOverlap": false, "title": "Predicted DSST"}}, "y2": {"field": "hi"}}},
     {"mark": {"type": "line", "color": "#C4684D", "strokeWidth": 1.3, "interpolate": "monotone"}, "encoding": {"x": {"field": "x", "type": "quantitative"}, "y": {"field": "fit", "type": "quantitative"}}},
     {"mark": {"type": "rule", "color": "#9a9a9a", "strokeDash": [3, 2], "strokeWidth": 0.8}, "encoding": {"y": {"datum": 39.0}}},
     {"data": {"values": [{"t": "*Low Education"}]}, "mark": {"type": "text", "align": "right", "baseline": "middle", "fontSize": 6, "fontStyle": "italic", "fontWeight": "bold"}, "encoding": {"x": {"datum": 43.7}, "y": {"datum": 49.64}, "text": {"field": "t"}}},
     {"data": {"values": [{"t": "Pₙₒₙₗᵢₙₑₐᵣ =0.01"}]}, "mark": {"type": "text", "align": "right", "baseline": "middle", "fontSize": 5.8, "fontStyle": "italic"}, "encoding": {"x": {"datum": 43.7}, "y": {"datum": 31.6}, "text": {"field": "t"}}},
     {"data": {"values": [{"t": "Pₒᵥₑᵣₐₗₗ = 7.1 × 10⁻⁷"}]}, "mark": {"type": "text", "align": "right", "baseline": "middle", "fontSize": 5.8, "fontStyle": "italic"}, "encoding": {"x": {"datum": 43.7}, "y": {"datum": 30.3}, "text": {"field": "t"}}}
    ]}
   ]}
  ]}
 ]}
]
}
